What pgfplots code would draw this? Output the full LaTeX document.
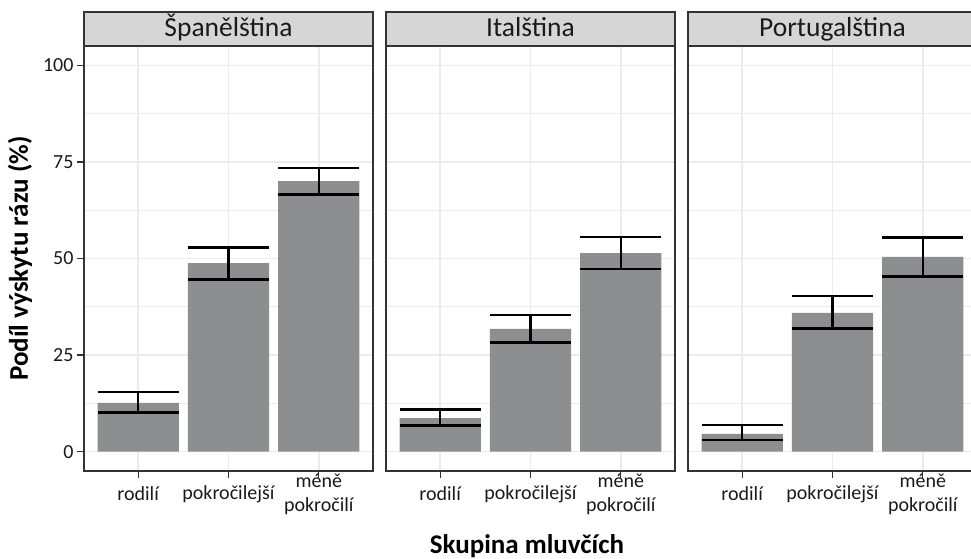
\documentclass[border=0pt]{standalone}
\usepackage{fontspec}
\setmainfont{Carlito}
\usepackage{pgfplots}
\usepackage{pgfplotstable}
\pgfplotsset{compat=1.18}
\definecolor{barfill}{HTML}{8D8E90}
\definecolor{gridc}{HTML}{EBEBEB}
\definecolor{frame}{HTML}{333333}
\definecolor{stripfill}{HTML}{D6D6D6}
\definecolor{txt}{HTML}{1A1A1A}

\pgfplotstableread{
x y ep em
1 12.6 2.8 2.4
2 48.8 4.1 4.2
3 70.0 3.4 3.5
}\spanel
\pgfplotstableread{
x y ep em
1 8.7 2.2 1.9
2 31.8 3.6 3.6
3 51.4 4.2 4.1
}\ipanel
\pgfplotstableread{
x y ep em
1 4.6 2.3 1.6
2 35.9 4.4 4.0
3 50.4 5.0 5.0
}\ppanel

\pgfplotsset{
  panel/.style={
    scale only axis, width=289bp, height=425bp, anchor=south west,
    xmin=0.4, xmax=3.6, ymin=-5, ymax=105,
    xtick={1,2,3},
    xticklabels={rodilí, pokročilejší, {méně\\pokročilí}},
    ytick={0,25,50,75,100},
    minor ytick={12.5,37.5,62.5,87.5},
    grid=both,
    major grid style={gridc, line width=1.4bp},
    minor grid style={gridc, line width=0.8bp},
    axis line style={frame, line width=1.6bp},
    tick align=outside,
    major tick length=7bp, minor tick length=0bp,
    tick style={frame, line width=1.3bp},
    xtick pos=bottom, ytick pos=left,
    xticklabel style={font=\fontsize{20bp}{24bp}\selectfont, text=txt, align=center, anchor=center, yshift=-16bp},
    yticklabel style={font=\fontsize{20bp}{24bp}\selectfont, text=txt},
    /pgf/number format/assume math mode=true,
    axis on top=false,
    clip=false,
    ybar, bar width=0.9,
  },
  bars/.style={fill=barfill, draw=none,
    error bars/.cd, y dir=both, y explicit,
    error mark=|,
    error bar style={black, line width=2.6bp},
    error mark options={black, line width=2.6bp, mark size=40.65bp}},
}

\newcommand{\strip}[2]{%
  \draw[frame, line width=1.6bp, fill=stripfill] (#1.north west) rectangle ([yshift=34bp]#1.north east);
  \node[font=\fontsize{27.5bp}{32bp}\selectfont, text=txt, anchor=base, inner sep=0pt] at ([yshift=9bp]#1.north) {#2};
}

\begin{document}
\begin{tikzpicture}
\useasboundingbox (0bp,0bp) rectangle (971bp,559bp);

\begin{axis}[panel, name=p1, at={(84bp,88bp)}]
\addplot[bars] table[x=x, y=y, y error plus=ep, y error minus=em] {\spanel};
\end{axis}

\begin{axis}[panel, name=p2, at={(386bp,88bp)}, yticklabels={}, ytick style={draw=none}]
\addplot[bars] table[x=x, y=y, y error plus=ep, y error minus=em] {\ipanel};
\end{axis}

\begin{axis}[panel, name=p3, at={(688bp,88bp)}, yticklabels={}, ytick style={draw=none}]
\addplot[bars] table[x=x, y=y, y error plus=ep, y error minus=em] {\ppanel};
\end{axis}

\strip{p1}{Španělština}
\strip{p2}{Italština}
\strip{p3}{Portugalština}

\node[rotate=90, font=\fontsize{27bp}{32bp}\selectfont\bfseries, text=black] at (20bp,300.5bp) {Podíl výskytu rázu (\%)};
\node[font=\fontsize{27bp}{32bp}\selectfont\bfseries, text=black, anchor=base, inner sep=0pt] at (527bp,6bp) {Skupina mluvčích};
\end{tikzpicture}
\end{document}
